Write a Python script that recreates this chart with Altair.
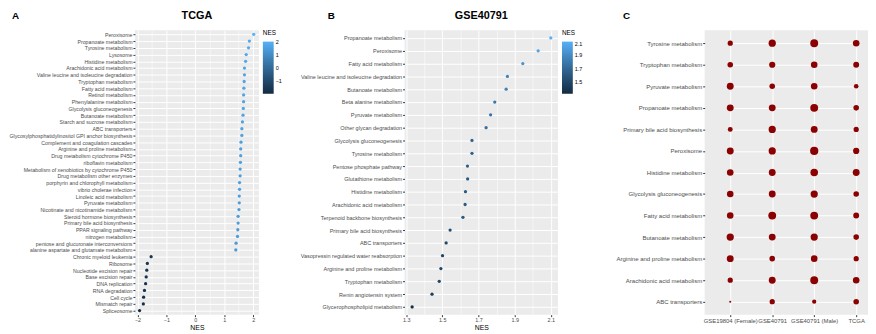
import altair as alt
import pandas as pd

# ---------------- Panel A (TCGA) ----------------
a_terms = [
    "Peroxisome", "Propanoate metabolism", "Tyrosine metabolism", "Lysosome",
    "Histidine metabolism", "Arachidonic acid metabolism",
    "Valine leucine and isoleucine degradation", "Tryptophan metabolism",
    "Fatty acid metabolism", "Retinol metabolism", "Phenylalanine metabolism",
    "Glycolysis gluconeogenesis", "Butanoate metabolism",
    "Starch and sucrose metabolism", "ABC transporters",
    "Glycosylphosphatidylinositol GPI anchor biosynthesis",
    "Complement and coagulation cascades", "Arginine and proline metabolism",
    "Drug metabolism cytochrome P450", "riboflavin metabolism",
    "Metabolism of xenobiotics by cytochrome P450", "Drug metabolism other enzymes",
    "porphyrin and chlorophyll metabolism", "vibrio cholerae infection",
    "Linoleic acid metabolism", "Pyruvate metabolism",
    "Nicotinate and nicotinamide metabolism", "Steroid hormone biosynthesis",
    "Primary bile acid biosynthesis", "PPAR signaling pathway",
    "nitrogen metabolism", "pentose and glucuronate interconversions",
    "alanine aspartate and glutamate metabolism", "Chronic myeloid leukemia",
    "Ribosome", "Nucleotide excision repair", "Base excision repair",
    "DNA replication", "RNA degradation", "Cell cycle", "Mismatch repair",
    "Spliceosome",
]
a_nes = [
    2.02, 1.87, 1.84, 1.76, 1.74, 1.70, 1.70, 1.69, 1.68, 1.67, 1.67, 1.66,
    1.65, 1.63, 1.61, 1.61, 1.58, 1.57, 1.57, 1.56, 1.55, 1.55, 1.53, 1.53,
    1.52, 1.52, 1.51, 1.48, 1.48, 1.47, 1.46, 1.41, 1.40,
    -1.53, -1.66, -1.68, -1.70, -1.72, -1.76, -1.79, -1.80, -1.93,
]
a_ticks = [-2, -1, 0, 1, 2]
a_minor = [-1.5, -0.5, 0.5, 1.5]
a_legend = [2, 1, 0, -1]

# ---------------- Panel B (GSE40791) ----------------
b_terms = [
    "Propanoate metabolism", "Peroxisome", "Fatty acid metabolism",
    "Valine leucine and isoleucine degradation", "Butanoate metabolism",
    "Beta alanine metabolism", "Pyruvate metabolism", "Other glycan degradation",
    "Glycolysis gluconeogenesis", "Tyrosine metabolism",
    "Pentose phosphate pathway", "Glutathione metabolism", "Histidine metabolism",
    "Arachidonic acid metabolism", "Terpenoid backbone biosynthesis",
    "Primary bile acid biosynthesis", "ABC transporters",
    "Vasopressin regulated water reabsorption", "Arginine and proline metabolism",
    "Tryptophan metabolism", "Renin angiotensin system",
    "Glycerophospholipid metabolism",
]
b_nes = [
    2.10, 2.03, 1.945, 1.86, 1.853, 1.79, 1.767, 1.742, 1.664, 1.664, 1.639,
    1.64, 1.628, 1.626, 1.614, 1.543, 1.521, 1.501, 1.492, 1.483, 1.443, 1.333,
]
b_ticks = [1.3, 1.5, 1.7, 1.9, 2.1]
b_minor = [1.4, 1.6, 1.8, 2.0]
b_legend = [2.1, 1.9, 1.7, 1.5]

# ---------------- Panel C (dot matrix) ----------------
c_terms = [
    "Tyrosine metabolism", "Tryptophan metabolism", "Pyruvate metabolism",
    "Propanoate metabolism", "Primary bile acid biosynthesis", "Peroxisome",
    "Histidine metabolism", "Glycolysis gluconeogenesis", "Fatty acid metabolism",
    "Butanoate metabolism", "Arginine and proline metabolism",
    "Arachidonic acid metabolism", "ABC transporters",
]
c_cols = ["GSE19804 (Female)", "GSE40791", "GSE40791 (Male)", "TCGA"]
c_female = [4.0, 4.5, 6.9, 6.9, 3.5, 6.9, 6.3, 6.3, 6.3, 7.6, 6.9, 4.0, 0.6]
c_gse = [7.6, 5.6, 4.5, 6.9, 7.6, 7.6, 6.9, 6.9, 9.0, 6.9, 4.5, 6.9, 4.0]
c_male = [9.0, 6.3, 6.3, 9.0, 6.9, 9.8, 8.3, 7.6, 9.0, 7.6, 6.3, 9.0, 2.6]
c_tcga = [6.3, 5.1, 3.1, 4.5, 4.0, 5.6, 6.9, 4.5, 5.1, 4.5, 4.0, 6.3, 4.5]

FONT = "Liberation Sans"
BG = "#EBEBEB"
LOW, HIGH = "#132B43", "#56B1F7"
H = 289
TY = -14  # vertical position of panel headings, relative to plot top


def heading(text, xpos, size, align):
    return alt.Chart(pd.DataFrame({"t": [text]})).mark_text(
        font=FONT, fontSize=size, fontWeight="bold", align=align, baseline="middle",
        color="black",
    ).encode(text="t:N", x=alt.value(xpos), y=alt.value(TY))


def gsea_panel(terms, nes, title, letter, letter_x, width, xdom, ticks, minor,
               legend_vals, fmt, ylab):
    df = pd.DataFrame({"term": terms, "NES": nes})
    ysc = alt.Scale(type="point", padding=0.6)
    xsc = alt.Scale(domain=xdom, nice=False, zero=False)
    pts = alt.Chart(df).mark_circle(size=11, opacity=1).encode(
        x=alt.X("NES:Q", scale=xsc, axis=alt.Axis(
            values=ticks, format=fmt, title="NES", orient="bottom",
            grid=True, gridWidth=1)),
        y=alt.Y("term:N", sort=terms, scale=ysc,
                axis=alt.Axis(title=None, grid=True, labelFontSize=ylab)),
        color=alt.Color("NES:Q", scale=alt.Scale(range=[LOW, HIGH], interpolate="lab"),
                        legend=alt.Legend(values=legend_vals, format=fmt, title="NES")),
    )
    grid_minor = alt.Chart(df).mark_circle(opacity=0).encode(
        x=alt.X("NES:Q", scale=xsc, axis=alt.Axis(
            values=minor, grid=True, gridWidth=0.5, gridColor="white",
            labels=False, ticks=False, domain=False, title=None, orient="bottom")),
    )
    return alt.layer(
        pts, grid_minor,
        heading(letter, letter_x, 10, "left"),
        heading(title, width / 2, 11, "center"),
    ).resolve_axis(x="independent").properties(width=width, height=H)


panel_a = gsea_panel(a_terms, a_nes, "TCGA", "A", -125, 126, [-2.09, 2.2],
                     a_ticks, a_minor, a_legend, "d", 5.3)
panel_b = gsea_panel(b_terms, b_nes, "GSE40791", "B", -78, 156, [1.291, 2.14],
                     b_ticks, b_minor, b_legend, ".1f", 5.6)

rows = []
for col, vals in zip(c_cols, [c_female, c_gse, c_male, c_tcga]):
    for t, v in zip(c_terms, vals):
        rows.append({"term": t, "dataset": col, "score": v})
df_c = pd.DataFrame(rows)

C_W = 166
dots = alt.Chart(df_c).mark_circle(color="#8B0000", opacity=1).encode(
    x=alt.X("dataset:N", sort=c_cols,
            scale=alt.Scale(type="point", range=[26, 154], padding=0),
            axis=alt.Axis(title=None, labelAngle=0, grid=True, labelFontSize=6)),
    y=alt.Y("term:N", sort=c_terms, scale=alt.Scale(type="point", padding=0.6),
            axis=alt.Axis(title=None, grid=True, labelFontSize=6.1)),
    size=alt.Size("score:Q", scale=alt.Scale(domain=[0, 10], range=[0, 71]), legend=None),
)
panel_c = alt.layer(dots, heading("C", -83, 10, "left")).properties(width=C_W, height=H)

chart = alt.hconcat(
    alt.hconcat(panel_a, panel_b, spacing=17).resolve_scale(color="independent"),
    panel_c, spacing=33,
).resolve_scale(color="independent", size="independent").properties(
    padding=0,
).configure_view(
    fill=BG, stroke=None,
).configure_axis(
    labelFont=FONT, labelFontSize=5.5, labelColor="#4D4D4D", tickColor="#333333",
    tickSize=2, domain=False, gridColor="white", gridWidth=1, labelLimit=400,
    titleFont=FONT, titleFontSize=7, titleFontWeight="normal", titleColor="black",
    titlePadding=1, labelPadding=1,
).configure_axisY(minExtent=0).configure_legend(
    titleFont=FONT, titleFontSize=6.5, titleFontWeight="normal", titleColor="black",
    labelFont=FONT, labelFontSize=5.5, labelColor="black", gradientLength=53,
    gradientThickness=11, padding=0, offset=4, labelOverlap=False,
    gradientStrokeWidth=0,
)

chart.save("out.html", embed_options={"renderer": "svg", "actions": False})
